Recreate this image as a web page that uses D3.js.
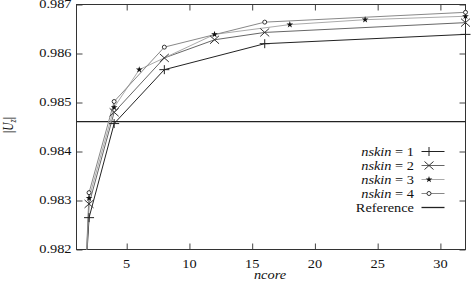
<!DOCTYPE html>
<html>
<head>
<meta charset="utf-8">
<script src="https://cdn.jsdelivr.net/npm/d3@7"></script>
<style>
  body { margin: 0; background: #fff; }
  svg { display: block; }
</style>
</head>
<body>
<div id="chart"></div>
<script>
// Data
const ncore1 = [1, 2, 4, 8, 16, 32];
const skin1 = [0.9783, 0.98265, 0.98457, 0.98567, 0.98620, 0.98639];
const ncore2 = [1, 2, 4, 8, 12, 16, 32];
const skin2 = [0.9775, 0.98293, 0.98480, 0.98591, 0.98628, 0.98643, 0.98663];
const ncore3 = [1, 2, 4, 6, 12, 18, 24, 32];
const skin3 = [0.9772, 0.98305, 0.98490, 0.98567, 0.98639, 0.98659, 0.98669, 0.98676];
const ncore4 = [1, 2, 4, 8, 16, 32];
const skin4 = [0.9770, 0.98316, 0.98502, 0.98613, 0.98664, 0.98684];
const referenceValue = 0.98461;
const xTicks = [5, 10, 15, 20, 25, 30];
const yTicks = [0.982, 0.983, 0.984, 0.985, 0.986, 0.987];
const seriesNames = ['nskin = 1', 'nskin = 2', 'nskin = 3', 'nskin = 4'];

const width = 471, height = 281;
const plotLeft = 76.5, plotRight = 465.5, plotTop = 4.5, plotBottom = 249.5;
const sx = 1.25; // the picture is stretched horizontally
const serif = 'Liberation Serif';

const series = [
    { name: seriesNames[0], x: ncore1, y: skin1, color: '#222', marker: 'plus' },
    { name: seriesNames[1], x: ncore2, y: skin2, color: '#666', marker: 'cross' },
    { name: seriesNames[2], x: ncore3, y: skin3, color: '#aaa', marker: 'star' },
    { name: seriesNames[3], x: ncore4, y: skin4, color: '#888', marker: 'circle' }
];

const x = d3.scaleLinear().domain([1, 32]).range([plotLeft, plotRight]);
const y = d3.scaleLinear().domain([0.982, 0.987]).range([plotBottom, plotTop]);

const svg = d3.select('#chart').append('svg')
    .attr('width', width)
    .attr('height', height);

svg.append('clipPath').attr('id', 'plotClip')
    .append('rect')
    .attr('x', plotLeft).attr('y', plotTop)
    .attr('width', plotRight - plotLeft + 6).attr('height', plotBottom - plotTop);

// stretched text helper
function label(g, tx, ty, str, anchor, italic) {
    const t = g.append('text')
        .attr('transform', `translate(${tx},${ty}) scale(${sx},1)`)
        .attr('text-anchor', anchor)
        .attr('font-family', serif)
        .attr('fill', '#111')
        .attr('font-size', 11.5)
        .text(str);
    if (italic) t.attr('font-style', 'italic');
    return t;
}

// Axes with inward ticks on all sides
const bottomAxis = svg.append('g')
    .attr('transform', `translate(0,${plotBottom})`)
    .call(d3.axisTop(x).tickValues(xTicks).tickSize(6).tickFormat(''));
const topAxis = svg.append('g')
    .attr('transform', `translate(0,${plotTop})`)
    .call(d3.axisBottom(x).tickValues(xTicks).tickSize(6).tickFormat(''));
const leftAxis = svg.append('g')
    .attr('transform', `translate(${plotLeft},0)`)
    .call(d3.axisRight(y).tickValues(yTicks).tickSize(6).tickFormat(''));
const rightAxis = svg.append('g')
    .attr('transform', `translate(${plotRight},0)`)
    .call(d3.axisLeft(y).tickValues(yTicks).tickSize(6).tickFormat(''));
[bottomAxis, topAxis, leftAxis, rightAxis].forEach(a => {
    a.select('.domain').remove();
    a.selectAll('line').attr('stroke', '#444');
});

svg.append('rect')
    .attr('x', plotLeft).attr('y', plotTop)
    .attr('width', plotRight - plotLeft).attr('height', plotBottom - plotTop)
    .attr('fill', 'none').attr('stroke', '#333');

// tick labels
const labels = svg.append('g');
xTicks.forEach(t => label(labels, x(t), 268, t, 'middle'));
yTicks.forEach(t => label(labels, 71.5, y(t) + 3.8, d3.format('.3f')(t), 'end'));

// axis titles
label(svg, 270, 278.5, 'ncore', 'middle', true);
const yt = svg.append('text')
    .attr('transform', 'translate(13,125) rotate(-90) scale(1,1.25)')
    .attr('text-anchor', 'middle')
    .attr('font-family', serif)
    .attr('fill', '#111')
    .attr('font-size', 11.5);
yt.append('tspan').text('|');
yt.append('tspan').attr('font-style', 'italic').text('U');
yt.append('tspan').attr('font-style', 'italic').attr('font-size', 8).attr('dy', 2).text('z');
yt.append('tspan').attr('dy', -2).text('|');

// markers
function drawMarker(g, type, cx, cy) {
    if (type === 'plus') {
        g.append('path').attr('d', `M${cx - 5},${cy}H${cx + 5}M${cx},${cy - 4.5}V${cy + 4.5}`)
            .attr('stroke', '#222').attr('fill', 'none');
    } else if (type === 'cross') {
        g.append('path').attr('d', `M${cx - 4.5},${cy - 4}L${cx + 4.5},${cy + 4}M${cx - 4.5},${cy + 4}L${cx + 4.5},${cy - 4}`)
            .attr('stroke', '#333').attr('fill', 'none');
    } else if (type === 'star') {
        g.append('path').attr('d', d3.symbol(d3.symbolStar, 14)())
            .attr('transform', `translate(${cx},${cy})`)
            .attr('fill', '#111');
    } else {
        g.append('circle').attr('cx', cx).attr('cy', cy).attr('r', 2)
            .attr('fill', '#fff').attr('stroke', '#333');
    }
}

const plot = svg.append('g').attr('clip-path', 'url(#plotClip)');

// reference line
plot.append('line')
    .attr('x1', plotLeft).attr('x2', plotRight)
    .attr('y1', y(referenceValue)).attr('y2', y(referenceValue))
    .attr('stroke', '#222').attr('stroke-width', 1.3);

const line = d3.line().x(d => x(d[0])).y(d => y(d[1]));
series.forEach(s => {
    const pts = s.x.map((v, i) => [v, s.y[i]]);
    plot.append('path')
        .attr('d', line(pts))
        .attr('fill', 'none')
        .attr('stroke', s.color)
        .attr('stroke-width', 1);
});
series.forEach(s => {
    s.x.forEach((v, i) => {
        if (s.y[i] >= 0.982) drawMarker(plot, s.marker, x(v), y(s.y[i]));
    });
});

// legend
const legend = svg.append('g');
const legendY = [151.5, 165.5, 179.5, 193.5, 207.5];
series.forEach((s, i) => {
    const t = legend.append('text')
        .attr('transform', `translate(414,${legendY[i] + 4}) scale(${sx},1)`)
        .attr('text-anchor', 'end')
        .attr('font-family', serif)
        .attr('fill', '#111')
        .attr('font-size', 11.5);
    t.append('tspan').attr('font-style', 'italic').text('nskin');
    t.append('tspan').text(' = ' + (i + 1));
    legend.append('line')
        .attr('x1', 421.5).attr('x2', 444.5)
        .attr('y1', legendY[i]).attr('y2', legendY[i])
        .attr('stroke', s.color);
    drawMarker(legend, s.marker, 429, legendY[i]);
});
label(legend, 414, legendY[4] + 4, 'Reference', 'end');
legend.append('line')
    .attr('x1', 421.5).attr('x2', 444.5)
    .attr('y1', legendY[4]).attr('y2', legendY[4])
    .attr('stroke', '#222').attr('stroke-width', 1.3);
</script>
</body>
</html>
